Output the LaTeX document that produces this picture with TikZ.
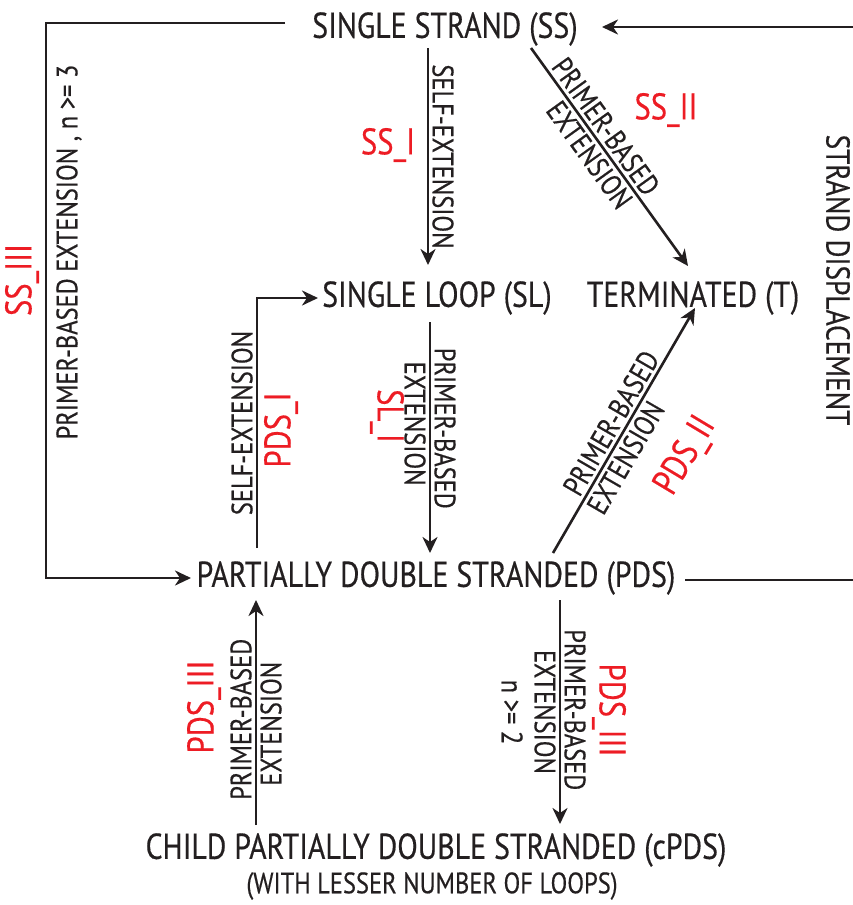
\documentclass[tikz,border=0pt]{standalone}
\usepackage{fontspec}
\setmainfont{PT Sans}[FakeStretch=0.83, FakeBold=0.4]
\usetikzlibrary{arrows.meta}
\definecolor{lblred}{RGB}{237,28,36}
\definecolor{ink}{RGB}{35,31,32}
\begin{document}
\begin{tikzpicture}[x=1pt,y=-1pt,
  line/.style={line width=2.6pt, draw=ink},
  arr/.style={line, -{Stealth[length=16pt,width=15pt,inset=5pt]}},
  state/.style={font=\fontsize{36}{38}\selectfont, text=ink, inner sep=0pt, anchor=center},
  lbl/.style={font=\fontsize{29.5}{31}\selectfont, text=ink, inner sep=3pt},
  redlbl/.style={font=\fontsize{37}{39}\selectfont, text=lblred, inner sep=0pt}]
\useasboundingbox (0,0) rectangle (853,905);

% states
\node[state] (ss) at (445,29) {SINGLE STRAND (SS)};
\node[state] (sl) at (437,298) {SINGLE LOOP (SL)};
\node[state] (t) at (693,298) {TERMINATED (T)};
\node[state] (pds) at (436,578) {PARTIALLY DOUBLE STRANDED (PDS)};
\node[state] (cpds) at (436,850) {CHILD PARTIALLY DOUBLE STRANDED (cPDS)};
\node[state, font=\fontsize{29.5}{31}\selectfont] (cpds2) at (432,886) {(WITH LESSER NUMBER OF LOOPS)};

% connector end points
\coordinate (ssA) at (428,48);
\coordinate (slA) at (428,265);
\coordinate (ssB) at (531,48);
\coordinate (tB) at (688,266);
\coordinate (ssR) at (602,27);
\coordinate (rTop) at (860,27);
\coordinate (rBot) at (860,580);
\coordinate (pdsR) at (685,580);
\coordinate (ssL) at (285,23);
\coordinate (cTL) at (46,23);
\coordinate (cBL) at (46,578);
\coordinate (pdsL) at (191,578);
\coordinate (pdsA) at (257,548);
\coordinate (cPI) at (257,298);
\coordinate (slL) at (318,298);
\coordinate (slB) at (430,322);
\coordinate (pdsB) at (430,553);
\coordinate (pdsC) at (553,553);
\coordinate (tC) at (695,308);
\coordinate (cpA) at (256,825);
\coordinate (pdsD) at (256,600);
\coordinate (pdsE) at (560,600);
\coordinate (cpB) at (560,824);

% SS_I
\draw[arr] (ssA) -- node[lbl, sloped, above, pos=0.5] {SELF-EXTENSION} (slA);
\node[redlbl] (ssI) at (388,145) {SS\_I};

% SS_II
\draw[arr] (ssB) -- node[lbl, sloped, above, pos=0.4] {PRIMER-BASED}
                    node[lbl, sloped, below, pos=0.45] {EXTENSION} (tB);
\node[redlbl] (ssII) at (666,110) {SS\_II};

% strand displacement
\draw[line] (pdsR) -- (rBot) -- (rTop);
\draw[arr] (rTop) -- (ssR);
\node[lbl, font=\fontsize{33}{35}\selectfont, rotate=-90, inner sep=0pt] (sd) at (838,280) {STRAND DISPLACEMENT};

% SS_III
\draw[arr] (ssL) -- (cTL) -- (cBL) -- (pdsL);
\node[lbl, rotate=90, inner sep=0pt] (ssIIIt) at (69,252) {PRIMER-BASED EXTENSION , n >= 3};
\node[redlbl, rotate=90] (ssIII) at (22,280) {SS\_III};

% PDS_I
\draw[arr] (pdsA) -- node[lbl, sloped, above, pos=0.5] {SELF-EXTENSION} (cPI) -- (slL);
\node[redlbl, rotate=90] (pdsI) at (281,430) {PDS\_I};

% SL_I
\draw[arr] (slB) -- node[lbl, sloped, above, pos=0.46] {PRIMER-BASED}
                    node[lbl, sloped, below, pos=0.44] {EXTENSION} (pdsB);
\node[redlbl, rotate=-90] (slI) at (387,416) {SL\_I};

% PDS_II
\draw[arr] (pdsC) -- node[lbl, sloped, above, pos=0.5] {PRIMER-BASED}
                     node[lbl, sloped, below, pos=0.42] {EXTENSION} (tC);
\node[redlbl, rotate=59] (pdsII) at (686,456) {PDS\_II};

% PDS_III left
\draw[arr] (cpA) -- node[lbl, sloped, above, pos=0.47] {PRIMER-BASED}
                    node[lbl, sloped, below, pos=0.45] {EXTENSION} (pdsD);
\node[redlbl, rotate=90] (pdsIIIa) at (204,707) {PDS\_III};

% PDS_III right
\draw[arr] (pdsE) -- node[lbl, sloped, above, pos=0.49] {PRIMER-BASED}
                     node[lbl, sloped, below, pos=0.5, align=center] {EXTENSION\\[2pt]n >= 2} (cpB);
\node[redlbl, rotate=-90] (pdsIIIb) at (609,710) {PDS\_III};
\end{tikzpicture}
\end{document}
